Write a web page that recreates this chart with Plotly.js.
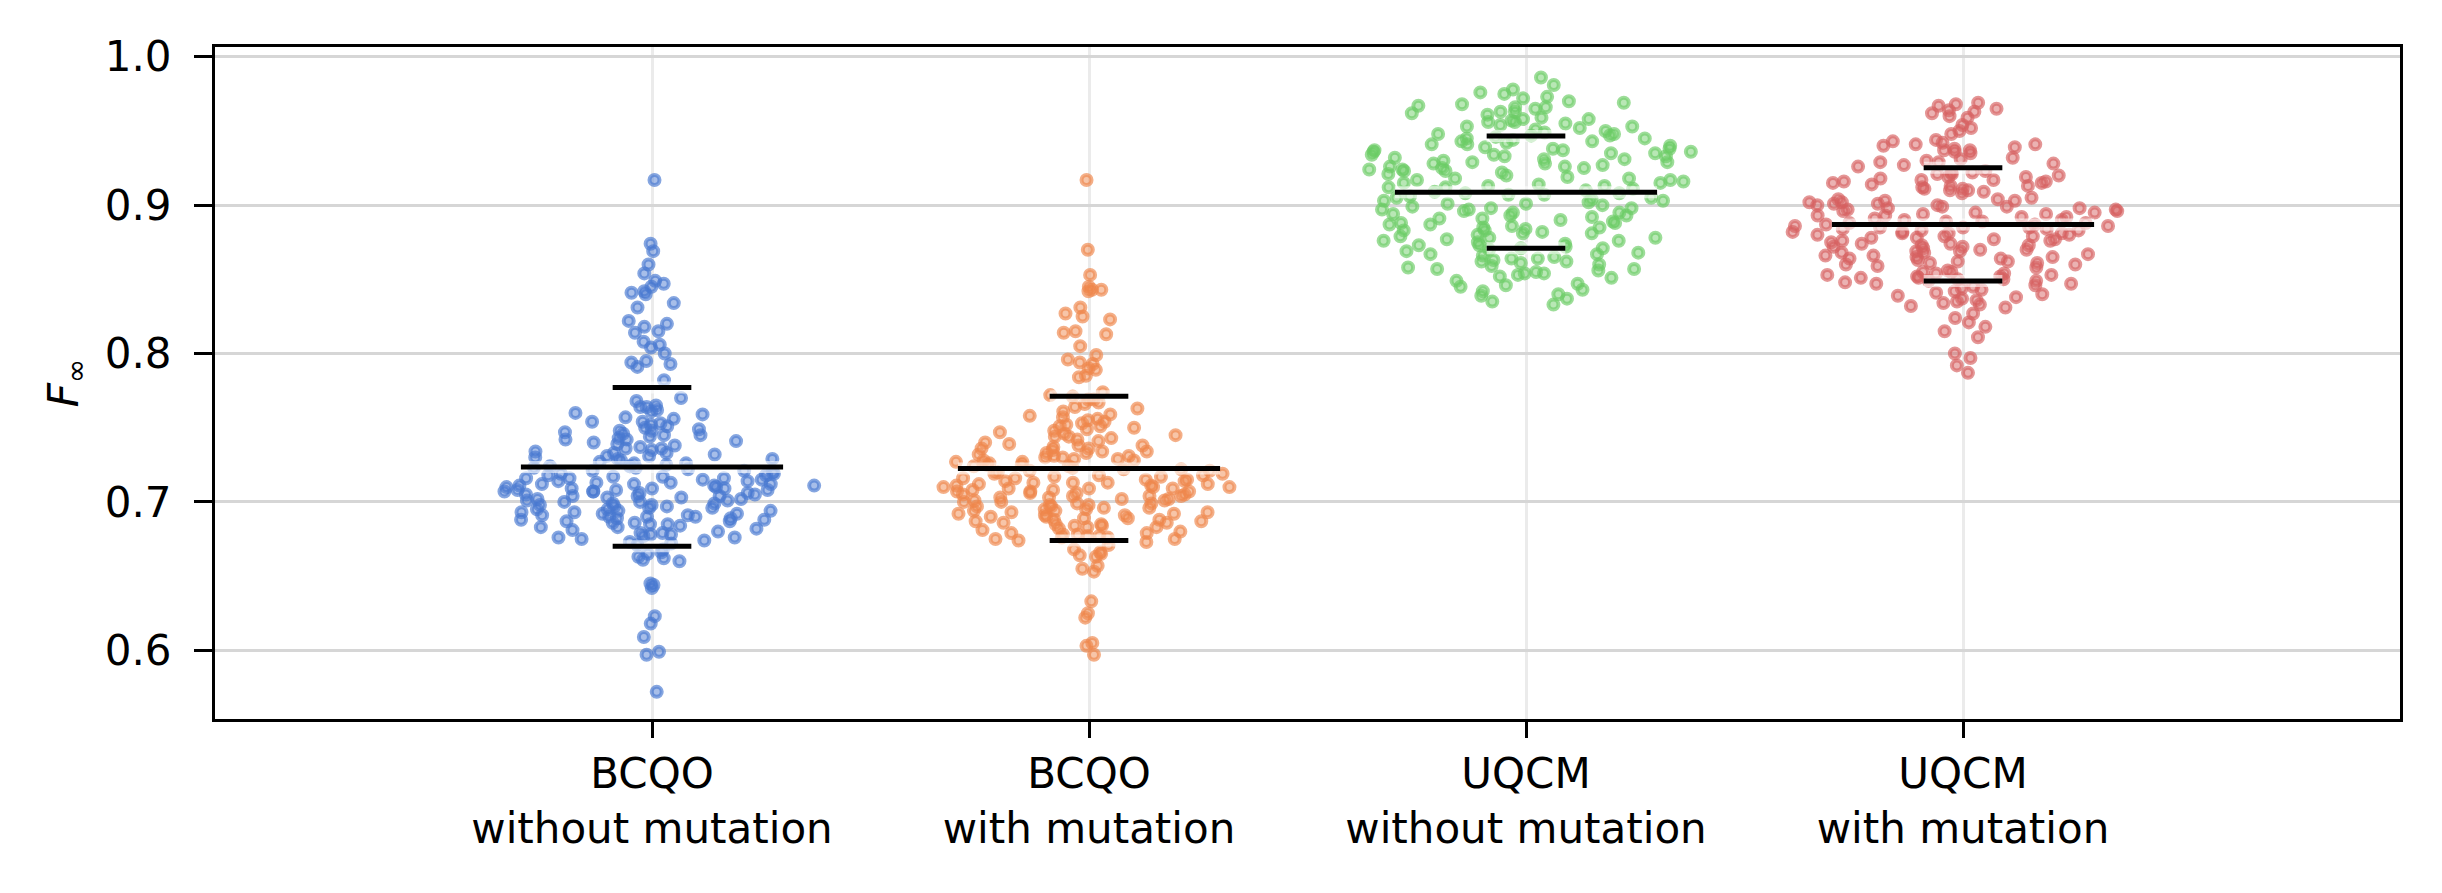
<!DOCTYPE html>
<html>
<head>
<meta charset="utf-8">
<script src="https://cdn.plot.ly/plotly-3.0.1.min.js"></script>
<style>
html,body{margin:0;padding:0;background:#ffffff;}
#chart{width:2442px;height:893px;}
</style>
</head>
<body>
<div id="chart"></div>
<script>
// ---------------- data ----------------
const categories = [
  "BCQO<br>without mutation",
  "BCQO<br>with mutation",
  "UQCM<br>without mutation",
  "UQCM<br>with mutation"
];

const bcqoWithout = [
  0.917, 0.874, 0.869, 0.860, 0.854, 0.849, 0.847, 0.845, 0.842, 0.841, 0.840, 0.834, 0.831, 0.822,
  0.820, 0.818, 0.815, 0.814, 0.808, 0.806, 0.804, 0.800, 0.795, 0.794, 0.793, 0.791, 0.782,
  0.770, 0.768, 0.765, 0.764, 0.764, 0.762, 0.760, 0.759, 0.757, 0.761,
  0.756, 0.754, 0.754, 0.752, 0.751, 0.750, 0.748, 0.748, 0.747, 0.745, 0.745, 0.744, 0.743, 0.742,
  0.742, 0.741, 0.740, 0.749, 0.753, 0.746,
  0.739, 0.738, 0.736, 0.736, 0.735, 0.733, 0.733, 0.732, 0.731, 0.730, 0.729, 0.729, 0.728, 0.726,
  0.726, 0.725, 0.724, 0.723, 0.723, 0.722, 0.721, 0.721, 0.720, 0.737, 0.734, 0.727, 0.731, 0.724,
  0.719, 0.718, 0.718, 0.717, 0.716, 0.716, 0.715, 0.714, 0.714, 0.713, 0.712, 0.712, 0.711, 0.711,
  0.710, 0.709, 0.709, 0.708, 0.708, 0.707, 0.707, 0.706, 0.705, 0.705, 0.704, 0.704, 0.703, 0.702,
  0.702, 0.701, 0.700, 0.700, 0.719, 0.717, 0.715, 0.713, 0.710, 0.706, 0.703, 0.701, 0.711, 0.716,
  0.709, 0.707, 0.704, 0.712, 0.708,
  0.699, 0.698, 0.697, 0.697, 0.696, 0.695, 0.694, 0.694, 0.693, 0.692, 0.691, 0.690, 0.690, 0.689,
  0.688, 0.687, 0.686, 0.686, 0.685, 0.684, 0.683, 0.682, 0.681, 0.680, 0.699, 0.696, 0.693, 0.691,
  0.689, 0.688, 0.692, 0.695, 0.685, 0.683, 0.687, 0.690, 0.698,
  0.679, 0.678, 0.678, 0.677, 0.676, 0.675, 0.674, 0.673, 0.672, 0.671, 0.676, 0.679,
  0.668, 0.666, 0.665, 0.663, 0.662, 0.661, 0.660, 0.645, 0.644, 0.642, 0.623, 0.618, 0.609, 0.599,
  0.597, 0.572
];

const bcqoWith = [
  0.917, 0.870, 0.853, 0.845, 0.843, 0.843, 0.842, 0.831, 0.827, 0.825, 0.823, 0.815, 0.814, 0.813,
  0.805, 0.799, 0.796, 0.794, 0.793, 0.790, 0.789, 0.785, 0.784,
  0.774, 0.772, 0.771, 0.769, 0.767, 0.766, 0.764, 0.763, 0.761, 0.769,
  0.759, 0.758, 0.756, 0.755, 0.754, 0.753, 0.752, 0.751, 0.750, 0.749, 0.748, 0.747, 0.746, 0.745,
  0.744, 0.743, 0.742, 0.741, 0.740, 0.757, 0.751, 0.744,
  0.739, 0.738, 0.738, 0.737, 0.736, 0.735, 0.734, 0.733, 0.733, 0.732, 0.731, 0.730, 0.729, 0.728,
  0.728, 0.727, 0.726, 0.725, 0.724, 0.724, 0.723, 0.722, 0.721, 0.720, 0.736, 0.731, 0.727, 0.722,
  0.734, 0.729, 0.725, 0.730, 0.721,
  0.719, 0.718, 0.717, 0.717, 0.716, 0.715, 0.714, 0.713, 0.713, 0.712, 0.711, 0.710, 0.710, 0.709,
  0.708, 0.707, 0.707, 0.706, 0.705, 0.704, 0.704, 0.703, 0.702, 0.701, 0.700, 0.718, 0.716, 0.714,
  0.712, 0.709, 0.706, 0.703, 0.701, 0.711, 0.708, 0.705, 0.702, 0.715, 0.719, 0.713, 0.710, 0.707,
  0.704, 0.700, 0.709,
  0.699, 0.698, 0.697, 0.696, 0.695, 0.694, 0.693, 0.693, 0.692, 0.691, 0.690, 0.689, 0.688, 0.687,
  0.686, 0.685, 0.684, 0.683, 0.682, 0.681, 0.680, 0.698, 0.696, 0.694, 0.691, 0.689, 0.687, 0.685,
  0.683, 0.699, 0.695, 0.692, 0.690, 0.688, 0.686, 0.684, 0.697,
  0.679, 0.678, 0.677, 0.677, 0.676, 0.675, 0.675, 0.674, 0.673, 0.679, 0.676, 0.678,
  0.671, 0.668, 0.666, 0.665, 0.664, 0.663, 0.657, 0.655, 0.653, 0.633, 0.625, 0.622, 0.605, 0.603,
  0.597
];

const uqcmWithout = [
  0.986, 0.981,
  0.978, 0.976, 0.975, 0.973, 0.972, 0.970,
  0.969, 0.968, 0.966, 0.966, 0.965, 0.963, 0.963, 0.962, 0.961, 0.967,
  0.959, 0.958, 0.958, 0.957, 0.956, 0.955, 0.954, 0.953, 0.953, 0.952, 0.951, 0.950, 0.956,
  0.949, 0.948, 0.947, 0.947, 0.946, 0.945, 0.944, 0.943, 0.943, 0.942, 0.941, 0.941, 0.940, 0.948,
  0.945,
  0.939, 0.938, 0.938, 0.937, 0.936, 0.935, 0.935, 0.934, 0.933, 0.933, 0.932, 0.931, 0.931, 0.930,
  0.937, 0.934, 0.936,
  0.929, 0.928, 0.928, 0.927, 0.926, 0.925, 0.925, 0.924, 0.923, 0.923, 0.922, 0.921, 0.920, 0.929,
  0.926, 0.924,
  0.919, 0.918, 0.917, 0.917, 0.916, 0.915, 0.914, 0.913, 0.913, 0.912, 0.911, 0.910, 0.918, 0.915,
  0.912,
  0.909, 0.908, 0.907, 0.907, 0.906, 0.905, 0.904, 0.903, 0.903, 0.902, 0.901, 0.900, 0.908, 0.905,
  0.901,
  0.899, 0.898, 0.897, 0.897, 0.896, 0.895, 0.894, 0.893, 0.893, 0.892, 0.891, 0.890, 0.898, 0.895,
  0.891,
  0.889, 0.888, 0.887, 0.887, 0.886, 0.885, 0.884, 0.883, 0.883, 0.882, 0.881, 0.880, 0.888, 0.885,
  0.881,
  0.879, 0.878, 0.877, 0.876, 0.875, 0.874, 0.873, 0.872, 0.871, 0.870, 0.878, 0.876, 0.873, 0.871,
  0.869, 0.868, 0.867, 0.866, 0.865, 0.864, 0.863, 0.862, 0.861, 0.860, 0.867, 0.864, 0.862,
  0.859, 0.858, 0.857, 0.856, 0.855, 0.854, 0.853, 0.852, 0.851, 0.857, 0.854,
  0.849, 0.847, 0.846, 0.845, 0.843, 0.842, 0.840,
  0.839, 0.837, 0.835, 0.833
];

const uqcmWith = [
  0.969, 0.968, 0.967,
  0.965, 0.964, 0.963, 0.962, 0.960, 0.959,
  0.954, 0.952, 0.950, 0.948,
  0.944, 0.943, 0.942, 0.941, 0.941, 0.940, 0.939, 0.938, 0.937, 0.937, 0.936, 0.935,
  0.932, 0.931, 0.930, 0.929, 0.929, 0.928, 0.927, 0.926,
  0.923, 0.922, 0.922, 0.921, 0.920, 0.919, 0.919, 0.918, 0.917, 0.917, 0.916, 0.915, 0.915, 0.914,
  0.913, 0.913, 0.912, 0.911, 0.911, 0.910, 0.910, 0.909, 0.908, 0.921, 0.916,
  0.905, 0.904, 0.904, 0.903, 0.902, 0.902, 0.901, 0.900, 0.900, 0.899, 0.898, 0.898, 0.897, 0.896,
  0.896, 0.895, 0.894, 0.894, 0.893, 0.892, 0.892, 0.891, 0.890, 0.890, 0.903, 0.899, 0.897, 0.895,
  0.893, 0.901,
  0.889, 0.889, 0.888, 0.887, 0.887, 0.886, 0.885, 0.885, 0.884, 0.883, 0.883, 0.882, 0.881, 0.881,
  0.880, 0.880, 0.879, 0.878, 0.878, 0.877, 0.876, 0.876, 0.888, 0.886, 0.884, 0.882, 0.879, 0.877,
  0.885, 0.881,
  0.875, 0.874, 0.873, 0.872, 0.872, 0.871, 0.870, 0.869, 0.868, 0.868, 0.867, 0.866, 0.865, 0.864,
  0.864, 0.863, 0.862, 0.861, 0.860, 0.860, 0.859, 0.858, 0.874, 0.870, 0.866, 0.862, 0.873, 0.869,
  0.865, 0.861,
  0.856, 0.855, 0.855, 0.854, 0.853, 0.853, 0.852, 0.851, 0.851, 0.850, 0.849, 0.849, 0.848, 0.847,
  0.847, 0.846, 0.845, 0.854, 0.850, 0.852,
  0.844, 0.843, 0.842, 0.841, 0.840, 0.839, 0.838, 0.837, 0.836, 0.835, 0.834, 0.833, 0.832, 0.831,
  0.827, 0.824, 0.821, 0.818, 0.815, 0.811,
  0.800, 0.797, 0.792, 0.787
];

const seriesValues = [bcqoWithout, bcqoWith, uqcmWithout, uqcmWith];
const yTickValues = [0.6, 0.7, 0.8, 0.9, 1.0];

// ---------------- styling ----------------
const palette = [[72,120,208],[238,133,74],[106,204,100],[214,95,95]];
const rgba = (c, a) => `rgba(${c[0]},${c[1]},${c[2]},${a})`;
const MAX_JITTER = 0.88;
const densityBands = [0, 0.1, 0.2, 0.35, 0.5, 0.65, 0.8, 1.0001];

function stats(v) {
  const n = v.length;
  const m = v.reduce((a, b) => a + b, 0) / n;
  const s = Math.sqrt(v.reduce((a, b) => a + (b - m) * (b - m), 0) / n);
  return {m, s};
}

// relative kernel density at every point (sina-style spread)
function relativeDensity(vals) {
  const n = vals.length;
  const st = stats(vals);
  const sorted = [...vals].sort((a, b) => a - b);
  const q = p => sorted[Math.round(p * (n - 1))];
  const iqr = q(0.75) - q(0.25);
  const h = 0.9 * Math.min(st.s, iqr / 1.34) * Math.pow(n, -0.2);
  const dens = vals.map(y => vals.reduce((acc, v) => acc + Math.exp(-0.5 * ((y - v) / h) ** 2), 0));
  const mx = Math.max(...dens);
  return dens.map(d => d / mx);
}

const traces = [];
seriesValues.forEach((vals, i) => {
  const rel = relativeDensity(vals);
  for (let b = 0; b < densityBands.length - 1; b++) {
    const lo = densityBands[b], hi = densityBands[b + 1];
    const sub = vals.filter((v, k) => rel[k] >= lo && rel[k] < hi);
    if (!sub.length) continue;
    const mid = Math.min(1, (lo + hi) / 2);
    traces.push({
      type: 'box',
      y: sub,
      x0: i,
      name: categories[i],
      width: 1,
      boxpoints: 'all',
      jitter: MAX_JITTER * mid,
      pointpos: 0,
      fillcolor: 'rgba(0,0,0,0)',
      line: {width: 0, color: 'rgba(0,0,0,0)'},
      whiskerwidth: 0,
      marker: {
        size: 10,
        color: rgba(palette[i], 0.48),
        line: {width: 4, color: rgba(palette[i], 0.66)}
      },
      hoverinfo: 'skip',
      showlegend: false
    });
  }
});

// mean and mean +/- std lines computed from the data
const shapes = [];
function addLine(x0, x1, y) {
  shapes.push({type: 'line', xref: 'x', yref: 'y', x0: x0, x1: x1, y0: y, y1: y,
    line: {color: 'rgba(255,255,255,0.6)', width: 12}, layer: 'above'});
  shapes.push({type: 'line', xref: 'x', yref: 'y', x0: x0, x1: x1, y0: y, y1: y,
    line: {color: '#000000', width: 5}, layer: 'above'});
}
seriesValues.forEach((vals, i) => {
  const st = stats(vals);
  addLine(i - 0.3, i + 0.3, st.m);
  addLine(i - 0.09, i + 0.09, st.m + st.s);
  addLine(i - 0.09, i + 0.09, st.m - st.s);
});

const layout = {
  width: 2442,
  height: 893,
  margin: {l: 215, r: 42, t: 47, b: 174, pad: 0},
  paper_bgcolor: '#ffffff',
  plot_bgcolor: '#ffffff',
  font: {family: 'DejaVu Sans', size: 42, color: '#000000'},
  showlegend: false,
  boxmode: 'overlay',
  xaxis: {
    type: 'linear',
    range: [-1, 4],
    tickvals: categories.map((c, i) => i),
    ticktext: categories,
    showgrid: true,
    gridcolor: '#ebebeb',
    gridwidth: 3,
    zeroline: false,
    showline: true,
    mirror: true,
    linecolor: '#000000',
    linewidth: 3,
    ticks: 'outside',
    ticklen: 16,
    tickwidth: 3,
    tickcolor: '#000000',
    tickfont: {family: 'DejaVu Sans', size: 42, color: '#000000'}
  },
  yaxis: {
    range: [0.5537, 1.0066],
    tickvals: yTickValues,
    ticktext: yTickValues.map(v => v.toFixed(1)),
    showgrid: true,
    gridcolor: '#d6d6d6',
    gridwidth: 3,
    zeroline: false,
    showline: true,
    mirror: true,
    linecolor: '#000000',
    linewidth: 3,
    ticks: 'outside',
    ticklen: 18,
    tickwidth: 3,
    tickcolor: '#000000',
    ticklabelstandoff: 14,
    tickfont: {family: 'DejaVu Sans', size: 42, color: '#000000'},
    title: {text: '<i>F</i><sub>∞</sub>', font: {family: 'DejaVu Sans', size: 42, color: '#000000'}, standoff: 14}
  },
  shapes: shapes
};

Plotly.newPlot('chart', traces, layout, {displayModeBar: false, staticPlot: true});
</script>
</body>
</html>
